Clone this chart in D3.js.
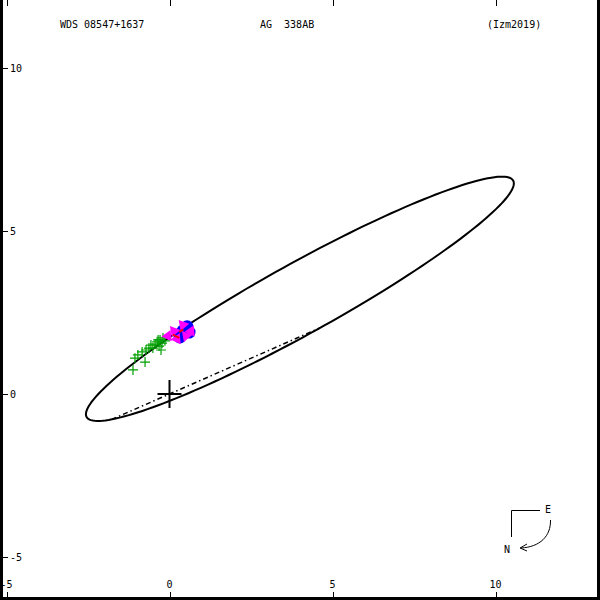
<!DOCTYPE html>
<html>
<head>
<meta charset="utf-8">
<script src="https://cdn.jsdelivr.net/npm/d3@7"></script>
<style>
  html, body { margin: 0; padding: 0; background: #fff; }
  svg { display: block; }
  text { font-family: "DejaVu Sans Mono", "Liberation Mono", monospace; font-size: 10px; fill: #000; white-space: pre; }
</style>
</head>
<body>
<div id="chart"></div>
<script>
// header texts
const headerTexts = ["WDS 08547+1637", "AG  338AB", "(Izm2019)"];

// axis ticks (arcsec)
const xTicks = [-5, 0, 5, 10];
const yTicks = [-5, 0, 5, 10];

// apparent orbit ellipse: centre, semi-axes (arcsec), tilt (deg)
const orbitCenter = [4.0, 2.92];
const orbitAxes = [7.48, 1.08];
const orbitTilt = 29;
// line of nodes angle (deg), passes through the primary
const nodeAngle = 23.7;

// micrometric measures
const microX = [-1.12, -1.06, -0.97, -0.84, -0.75, -0.72, -0.63, -0.57, -0.51, -0.44, -0.38, -0.32, -0.29, -0.26, -0.23, -0.20, -0.14, -0.35];
const microY = [0.74, 1.10, 1.20, 1.29, 0.98, 1.35, 1.41, 1.50, 1.41, 1.53, 1.60, 1.47, 1.66, 1.35, 1.56, 1.72, 1.63, 1.66];

// other measures (filled circles)
const dotX = [0.54, 0.41, 0.32, 0.60];
const dotY = [2.06, 1.93, 1.75, 1.90];

// speckle measures (triangles)
const speckX = [-0.05, 0.14, 0.23, 0.51, 0.66, 0.41];
const speckY = [1.78, 1.93, 1.69, 1.78, 1.93, 2.12];

// O-C residual segments
const residFrom = [[0.10, 1.82], [0.30, 1.90]];
const residTo = [[0.30, 1.72], [0.42, 1.98]];

const W = 600, H = 600;
const svg = d3.select("#chart").append("svg").attr("width", W).attr("height", H);

const x = d3.scaleLinear().domain([-5, 10]).range([6.5, 495.5]);
const y = d3.scaleLinear().domain([-5, 10]).range([557, 68]);

// frame
svg.append("rect").attr("x", 0).attr("y", 0).attr("width", W).attr("height", H).attr("fill", "#fff");
svg.append("path")
    .attr("d", `M1.5,0 V598.5 H598.5 V0`)
    .attr("fill", "none").attr("stroke", "#000").attr("stroke-width", 3);

// ticks
const tickG = svg.append("g").attr("stroke", "#000").attr("stroke-width", 1);
xTicks.forEach(t => {
    tickG.append("line").attr("x1", Math.round(x(t)) + 0.5).attr("x2", Math.round(x(t)) + 0.5).attr("y1", 0).attr("y2", 6);
    tickG.append("line").attr("x1", Math.round(x(t)) + 0.5).attr("x2", Math.round(x(t)) + 0.5).attr("y1", 592).attr("y2", 598);
    svg.append("text").attr("x", x(t)).attr("y", 588).attr("text-anchor", "middle").text(t);
});
yTicks.forEach(t => {
    tickG.append("line").attr("x1", 0).attr("x2", 8).attr("y1", Math.round(y(t)) + 0.5).attr("y2", Math.round(y(t)) + 0.5);
    svg.append("text").attr("x", 10).attr("y", y(t) + 4).text(t);
});

// header
svg.append("text").attr("x", 60).attr("y", 28).text(headerTexts[0]);
svg.append("text").attr("x", 260).attr("y", 28).text(headerTexts[1]);
svg.append("text").attr("x", 487).attr("y", 28).text(headerTexts[2]);

// orbit ellipse
const th = orbitTilt * Math.PI / 180;
const ell = d3.range(0, 361, 2).map(d => {
    const t = d * Math.PI / 180;
    const u = orbitAxes[0] * Math.cos(t), v = orbitAxes[1] * Math.sin(t);
    return [orbitCenter[0] + u * Math.cos(th) - v * Math.sin(th),
            orbitCenter[1] + u * Math.sin(th) + v * Math.cos(th)];
});
const line = d3.line().x(d => x(d[0])).y(d => y(d[1]));
svg.append("path").attr("d", line(ell) + "Z")
    .attr("fill", "none").attr("stroke", "#000").attr("stroke-width", 2);

// line of nodes clipped to the ellipse
(function () {
    const ph = nodeAngle * Math.PI / 180;
    const dx = Math.cos(ph), dy = Math.sin(ph);
    const px = -orbitCenter[0], py = -orbitCenter[1];
    const ru = [px * Math.cos(th) + py * Math.sin(th), -px * Math.sin(th) + py * Math.cos(th)];
    const rd = [dx * Math.cos(th) + dy * Math.sin(th), -dx * Math.sin(th) + dy * Math.cos(th)];
    const a2 = orbitAxes[0] ** 2, b2 = orbitAxes[1] ** 2;
    const A = rd[0] ** 2 / a2 + rd[1] ** 2 / b2;
    const B = 2 * (ru[0] * rd[0] / a2 + ru[1] * rd[1] / b2);
    const C = ru[0] ** 2 / a2 + ru[1] ** 2 / b2 - 1;
    const disc = Math.sqrt(B * B - 4 * A * C);
    const s1 = (-B - disc) / (2 * A), s2 = (-B + disc) / (2 * A);
    svg.append("path").attr("d", line([[s1 * dx, s1 * dy], [s2 * dx, s2 * dy]]))
        .attr("fill", "none").attr("stroke", "#000").attr("stroke-width", 1.5)
        .attr("stroke-dasharray", "5,3,1.5,3");
})();

// primary cross
svg.append("path")
    .attr("d", `M${x(0) - 12},${y(0)} H${x(0) + 12} M${x(0)},${y(0) - 14} V${y(0) + 14}`)
    .attr("stroke", "#000").attr("stroke-width", 2).attr("fill", "none");

// micrometric measures
const plus = svg.append("g").attr("stroke", "#00a000").attr("stroke-width", 1.2);
microX.forEach((mx, i) => {
    const cx = x(mx), cy = y(microY[i]);
    plus.append("path").attr("d", `M${cx - 5},${cy} H${cx + 5} M${cx},${cy - 5} V${cy + 5}`);
});

// filled circles
svg.append("g").selectAll("circle").data(dotX).join("circle")
    .attr("cx", d => x(d)).attr("cy", (d, i) => y(dotY[i])).attr("r", 6.5).attr("fill", "#0000ff");

// triangles
const tri = d3.symbol().type(d3.symbolTriangle).size(55);
svg.append("g").selectAll("path").data(speckX).join("path")
    .attr("d", tri)
    .attr("transform", (d, i) => `translate(${x(d)},${y(speckY[i])}) rotate(${i % 2 ? -40 : 25})`)
    .attr("fill", "#ff00ff");

// residuals
residFrom.forEach((p, i) => {
    svg.append("path").attr("d", line([p, residTo[i]])).attr("stroke", "#ff0000").attr("stroke-width", 2);
});

// compass
const comp = svg.append("g").attr("stroke", "#000").attr("fill", "none").attr("stroke-width", 1);
comp.append("path").attr("d", "M540,510.5 H511.5 V537");
comp.append("path").attr("d", "M550.5,520 C551,536 540,547 521,548");
comp.append("path").attr("d", "M527,544 L520,548 L527,551");
svg.append("text").attr("x", 545).attr("y", 513).text("E");
svg.append("text").attr("x", 504).attr("y", 553).text("N");
</script>
</body>
</html>
